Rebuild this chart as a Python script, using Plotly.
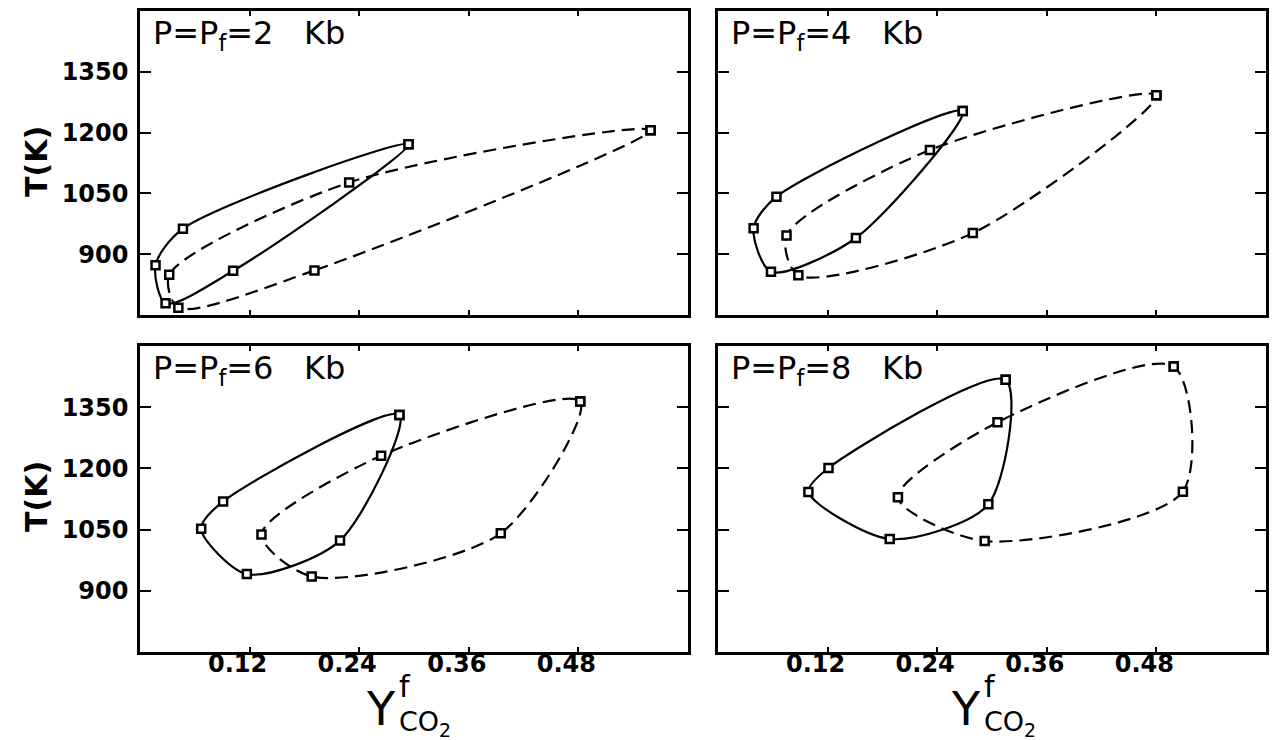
import plotly.graph_objects as go

W, H = 1277, 740

# ---------------- data ----------------
pressures = ["2", "4", "6", "8"]
x_tick_vals = [0.12, 0.24, 0.36, 0.48]
x_tick_text = ["0.12", "0.24", "0.36", "0.48"]
y_tick_vals = [900, 1050, 1200, 1350]
y_tick_text = ["900", "1050", "1200", "1350"]

# P = Pf = 2 Kb
solid_x_2kb = [0.294, 0.102, 0.028, 0.017, 0.047, 0.294]
solid_T_2kb = [1171, 859, 779, 873, 963, 1171]
dash_x_2kb = [0.559, 0.191, 0.042, 0.032, 0.229, 0.559]
dash_T_2kb = [1206, 860, 768, 849, 1077, 1206]

# P = Pf = 4 Kb
solid_x_4kb = [0.268, 0.151, 0.058, 0.039, 0.064, 0.268]
solid_T_4kb = [1253, 940, 857, 964, 1042, 1253]
dash_x_4kb = [0.480, 0.279, 0.088, 0.075, 0.232, 0.480]
dash_T_4kb = [1292, 952, 848, 946, 1157, 1292]

# P = Pf = 6 Kb
solid_x_6kb = [0.284, 0.219, 0.117, 0.067, 0.091, 0.284]
solid_T_6kb = [1331, 1023, 941, 1052, 1119, 1331]
dash_x_6kb = [0.482, 0.395, 0.188, 0.133, 0.264, 0.482]
dash_T_6kb = [1364, 1041, 935, 1038, 1231, 1364]

# P = Pf = 8 Kb
solid_x_8kb = [0.315, 0.296, 0.188, 0.099, 0.121, 0.315]
solid_T_8kb = [1417, 1112, 1027, 1142, 1201, 1417]
dash_x_8kb = [0.499, 0.509, 0.292, 0.197, 0.306, 0.499]
dash_T_8kb = [1450, 1143, 1022, 1129, 1313, 1450]

panels = [
    (solid_x_2kb, solid_T_2kb, dash_x_2kb, dash_T_2kb),
    (solid_x_4kb, solid_T_4kb, dash_x_4kb, dash_T_4kb),
    (solid_x_6kb, solid_T_6kb, dash_x_6kb, dash_T_6kb),
    (solid_x_8kb, solid_T_8kb, dash_x_8kb, dash_T_8kb),
]

# ---------------- layout geometry (pixels) ----------------
col_px = [(140, 688), (718, 1266)]
row_px = [(11, 315), (346, 652)]


def px_x(p):
    return p / W


def px_y(p):
    return 1 - p / H


FONT = "DejaVu Sans"
TICKFONT = dict(family=FONT, size=24, weight="bold", color="black")
fig = go.Figure()

marker = dict(symbol="square", size=8, color="white",
              line=dict(color="black", width=2.5))

for i, (sx, sT, dx, dT) in enumerate(panels):
    suffix = "" if i == 0 else str(i + 1)
    fig.add_trace(go.Scatter(
        x=sx, y=sT, mode="lines+markers", xaxis="x" + suffix, yaxis="y" + suffix,
        line=dict(color="black", width=2.2, shape="spline", smoothing=0.8),
        marker=marker, showlegend=False, hoverinfo="skip"))
    fig.add_trace(go.Scatter(
        x=dx, y=dT, mode="lines+markers", xaxis="x" + suffix, yaxis="y" + suffix,
        line=dict(color="black", width=2.2, dash="13px,7px", shape="spline", smoothing=0.8),
        marker=marker, showlegend=False, hoverinfo="skip"))

# empty traces that carry the label-only x axes of the bottom row
for xk, yk in ((5, 7), (6, 8)):
    fig.add_trace(go.Scatter(x=[], y=[], xaxis="x%d" % xk, yaxis="y%d" % yk,
                             showlegend=False, hoverinfo="skip"))

layout = dict(
    width=W, height=H,
    margin=dict(l=0, r=0, t=0, b=0),
    paper_bgcolor="white", plot_bgcolor="white",
    showlegend=False,
    font=dict(family=FONT, color="black"),
)

for i in range(4):
    r, c = divmod(i, 2)
    suffix = "" if i == 0 else str(i + 1)
    x0, x1 = col_px[c]
    y0, y1 = row_px[r]
    layout["xaxis" + suffix] = dict(
        domain=[px_x(x0), px_x(x1)], range=[0, 0.6], anchor="y" + suffix,
        showgrid=False, zeroline=False, showline=True, linecolor="black", linewidth=2.5,
        mirror="allticks", ticks="inside", ticklen=5, tickwidth=2, tickcolor="black",
        tickvals=x_tick_vals, ticktext=x_tick_text,
        showticklabels=False,
        fixedrange=True,
    )
    layout["yaxis" + suffix] = dict(
        domain=[px_y(y1), px_y(y0)], range=[750, 1500], anchor="x" + suffix,
        showgrid=False, zeroline=False, showline=True, linecolor="black", linewidth=2.5,
        mirror="allticks", ticks="inside", ticklen=11, tickwidth=2, tickcolor="black",
        tickvals=y_tick_vals, ticktext=y_tick_text,
        showticklabels=(c == 0), ticklabelstandoff=4,
        tickfont=TICKFONT,
        fixedrange=True,
    )

# label-only x axes for the bottom row (own invisible y axes)
for xk, yk, base_x, base_y, c in ((5, 7, "x3", "y3", 0), (6, 8, "x4", "y4", 1)):
    x0, x1 = col_px[c]
    y0, y1 = row_px[1]
    layout["xaxis%d" % xk] = dict(
        domain=[px_x(x0), px_x(x1)], range=[0, 0.6], overlaying=base_x,
        anchor="free", position=px_y(y1 - 5), side="bottom",
        showgrid=False, zeroline=False, showline=False, ticks="",
        tickvals=x_tick_vals, ticktext=x_tick_text,
        showticklabels=True, ticklabelshift=-12,
        tickfont=TICKFONT, fixedrange=True,
    )
    layout["yaxis%d" % yk] = dict(
        domain=[px_y(y1), px_y(y0)], range=[750, 1500], overlaying=base_y,
        anchor="x%d" % xk, visible=False, showgrid=False, zeroline=False,
        fixedrange=True,
    )

annotations = []
# panel labels
for i, p in enumerate(pressures):
    r, c = divmod(i, 2)
    x0 = col_px[c][0] + 11
    y_mid = row_px[r][0] + 24
    annotations.append(dict(
        xref="paper", yref="paper", x=px_x(x0), y=px_y(y_mid),
        xanchor="left", yanchor="middle", showarrow=False,
        text="P=P<sub>f</sub>=" + p + "\u00a0\u00a0\u00a0Kb",
        font=dict(family=FONT, size=32, color="black"),
    ))

# y-axis titles
for r in range(2):
    yc = 162 if r == 0 else 497
    annotations.append(dict(
        xref="paper", yref="paper", x=px_x(36), y=px_y(yc),
        xanchor="center", yanchor="middle", showarrow=False, textangle=-90,
        text="T(K)", font=dict(family=FONT, size=30, weight="bold", color="black"),
    ))

# x-axis titles  Y^f_CO2
for xc in (381, 966):
    annotations.append(dict(
        xref="paper", yref="paper", x=px_x(xc), y=px_y(709),
        xanchor="center", yanchor="middle", showarrow=False,
        text="Y", font=dict(family=FONT, size=46, color="black"),
    ))
    annotations.append(dict(
        xref="paper", yref="paper", x=px_x(xc + 24), y=px_y(686),
        xanchor="center", yanchor="middle", showarrow=False,
        text="f", font=dict(family=FONT, size=30, color="black"),
    ))
    annotations.append(dict(
        xref="paper", yref="paper", x=px_x(xc + 16), y=px_y(723),
        xanchor="left", yanchor="middle", showarrow=False,
        text="CO<sub>2</sub>", font=dict(family=FONT, size=27, color="black"),
    ))

layout["annotations"] = annotations
fig.update_layout(**layout)

fig.write_html(
    "out.html",
    config={"displayModeBar": False},
    post_script="document.body.style.margin='0px';document.body.style.overflow='hidden';",
)
